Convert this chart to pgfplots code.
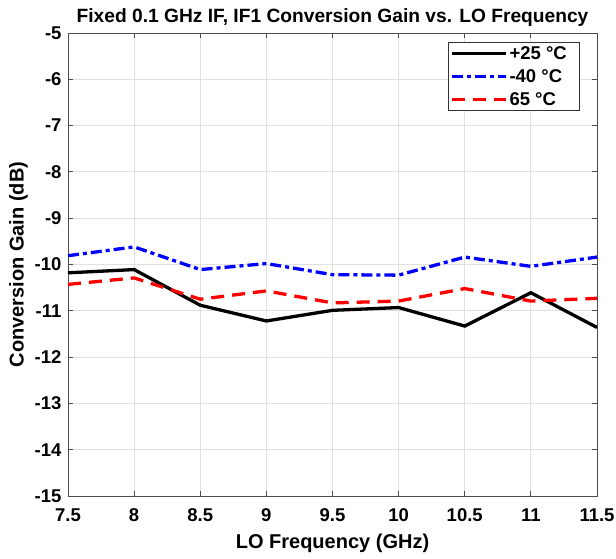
\documentclass[border=0pt]{standalone}
\usepackage{pgfplots}
\pgfplotsset{compat=1.18}
\usepackage{fontspec}
\setmainfont{Liberation Sans}
\begin{document}
\begin{tikzpicture}
\begin{axis}[
  name=main,
  scale only axis,
  width=529pt, height=463pt,
  xmin=7.5, xmax=11.5, ymin=-15, ymax=-5,
  xtick={7.5,8,...,11.5},
  xticklabels={7.5,8,8.5,9,9.5,10,10.5,11,11.5},
  ytick={-15,-14,...,-5},
  /pgf/number format/assume math mode=true,
  tick label style={font=\fontsize{18.5}{21}\selectfont\bfseries},
  xticklabel style={yshift=-9pt},
  yticklabel style={xshift=-3pt},
  label style={font=\fontsize{20}{23}\selectfont\bfseries},
  title style={font=\fontsize{19.2}{22}\selectfont\bfseries, yshift=-3pt},
  title={Fixed 0.1 GHz IF, IF1 Conversion Gain vs. LO Frequency},
  xlabel={LO Frequency (GHz)},
  ylabel={Conversion Gain (dB)},
  xlabel style={yshift=-6pt},
  ylabel style={yshift=0pt},
  grid=major,
  major grid style={black!12, line width=0.9pt},
  tick align=inside,
  major tick length=5pt,
  axis line style={black!70, line width=0.9pt},
  tick style={black!70, line width=0.9pt},
  legend style={at={(1,1)}, xshift=-17pt, yshift=-9pt, anchor=north east,
    font=\fontsize{18.5}{21}\selectfont\bfseries,
    draw=black!80, line width=0.9pt, inner sep=2pt,
    row sep=4.5pt},
  legend cell align=left,
  legend image code/.code={\draw[#1] (0pt,0pt) -- (54pt,0pt);},
]
\addplot[black, line width=3.3pt] coordinates {
(7.5,-10.18) (8,-10.11) (8.5,-10.88) (9,-11.22) (9.5,-10.99) (10,-10.93) (10.5,-11.33) (11,-10.61) (11.5,-11.36)};
\addlegendentry{\makebox[66pt][l]{+25 °C}}
\addplot[blue, line width=3.3pt, dash pattern=on 11pt off 4pt on 4pt off 4pt] coordinates {
(7.5,-9.81) (8,-9.62) (8.5,-10.11) (9,-9.98) (9.5,-10.22) (10,-10.23) (10.5,-9.84) (11,-10.04) (11.5,-9.84)};
\addlegendentry{-40 °C}
\addplot[red, line width=3.3pt, dash pattern=on 13pt off 8pt] coordinates {
(7.5,-10.43) (8,-10.29) (8.5,-10.75) (9,-10.57) (9.5,-10.83) (10,-10.79) (10.5,-10.52) (11,-10.79) (11.5,-10.73)};
\addlegendentry{65 °C}
\end{axis}
\pgfresetboundingbox
\path (main.south west) ++(-68pt,-63pt) rectangle ++(616pt,559pt);
\end{tikzpicture}
\end{document}
